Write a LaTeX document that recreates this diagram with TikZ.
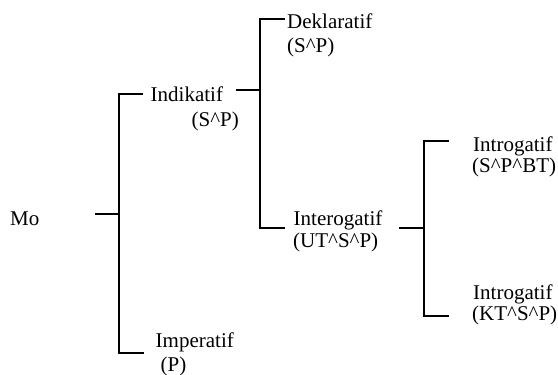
\documentclass[tikz,border=0pt]{standalone}
\usepackage{fontspec}
\setmainfont{Liberation Serif}
\newcommand{\ct}{\textasciicircum}
\begin{document}
\begin{tikzpicture}[x=1bp,y=-1bp,
  lbl/.style={anchor=base west,inner sep=0pt,font=\fontsize{21bp}{22bp}\selectfont},
  br/.style={line width=1.6bp}]
\useasboundingbox (0,0) rectangle (558,374);
% labels
\node[lbl] (mo) at (10,225) {Mo};
\node[lbl] (ind) at (150.5,101) {Indikatif};
\node[lbl] (indf) at (191.5,126) {(S\ct P)};
\node[lbl] (dek) at (287,28.5) {Deklaratif};
\node[lbl] (dekf) at (287,52.5) {(S\ct P)};
\node[lbl] (inter) at (293.5,225.5) {Interogatif};
\node[lbl] (interf) at (293,247) {(UT\ct S\ct P)};
\node[lbl] (intA) at (473,151) {Introgatif};
\node[lbl] (intAf) at (472,172.5) {(S\ct P\ct BT)};
\node[lbl] (intB) at (473,299) {Introgatif};
\node[lbl] (intBf) at (472,320.5) {(KT\ct S\ct P)};
\node[lbl] (imp) at (155.5,347) {Imperatif};
\node[lbl] (impf) at (160.5,371) {(P)};
% bracket points
\coordinate (m1) at (95,214);
\coordinate (b1m) at (119,214);
\coordinate (b1t) at (119,94);
\coordinate (b1te) at (143,94);
\coordinate (b1b) at (119,353);
\coordinate (b1be) at (144,353);
\coordinate (i1) at (236,90);
\coordinate (b2m) at (260,90);
\coordinate (b2t) at (260,19);
\coordinate (b2te) at (285,19);
\coordinate (b2b) at (260,228);
\coordinate (b2be) at (285,228);
\coordinate (t1) at (399,228);
\coordinate (b3m) at (424,228);
\coordinate (b3t) at (424,141);
\coordinate (b3te) at (449,141);
\coordinate (b3b) at (424,316);
\coordinate (b3be) at (449,316);
% connectors
\draw[br] (m1) -- (b1m);
\draw[br] (b1te) -- (b1t) -- (b1b) -- (b1be);
\draw[br] (i1) -- (b2m);
\draw[br] (b2te) -- (b2t) -- (b2b) -- (b2be);
\draw[br] (t1) -- (b3m);
\draw[br] (b3te) -- (b3t) -- (b3b) -- (b3be);
\end{tikzpicture}
\end{document}
